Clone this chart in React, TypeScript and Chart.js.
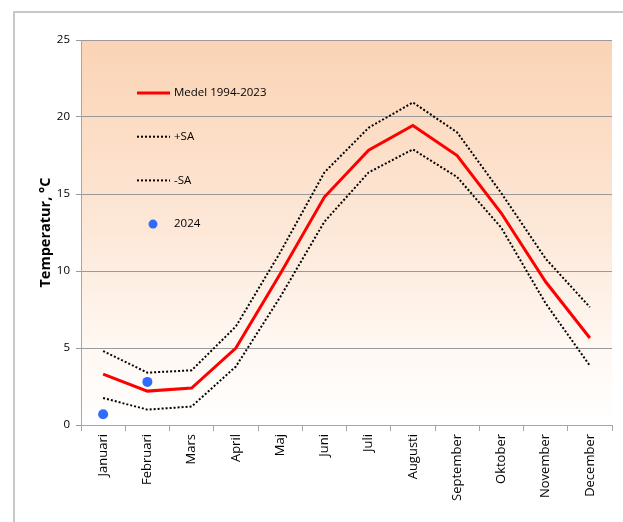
import React, { useEffect, useRef } from "react";
import { Chart, registerables } from "chart.js";

Chart.register(...registerables);

const months = [
  "Januari", "Februari", "Mars", "April", "Maj", "Juni",
  "Juli", "Augusti", "September", "Oktober", "November", "December",
];
const medel = [3.3, 2.2, 2.4, 5.0, 9.8, 14.8, 17.85, 19.45, 17.5, 13.75, 9.3, 5.65];
const plusSA = [4.8, 3.4, 3.55, 6.4, 11.2, 16.4, 19.3, 20.95, 19.0, 15.05, 10.8, 7.65];
const minusSA = [1.75, 1.0, 1.2, 3.8, 8.3, 13.2, 16.4, 17.9, 16.1, 12.8, 7.9, 3.85];
const y2024: (number | null)[] = [0.7, 2.8, null, null, null, null, null, null, null, null, null, null];
const yTicks = [0, 5, 10, 15, 20, 25];

const FONT = "'Open Sans', 'Liberation Sans', sans-serif";

const bgPlugin = {
  id: "bgGradient",
  beforeDraw(chart: any) {
    const { ctx, chartArea } = chart;
    if (!chartArea) return;
    const g = ctx.createLinearGradient(0, chartArea.top, 0, chartArea.bottom);
    g.addColorStop(0, "#FBD3B4");
    g.addColorStop(0.5, "#FDE8D8");
    g.addColorStop(0.8, "#FFF8F3");
    g.addColorStop(1, "#FFFFFF");
    ctx.save();
    ctx.fillStyle = g;
    ctx.fillRect(chartArea.left, chartArea.top, chartArea.right - chartArea.left, chartArea.bottom - chartArea.top);
    ctx.restore();
  },
};

const legendPlugin = {
  id: "insideLegend",
  afterDraw(chart: any) {
    const { ctx, chartArea } = chart;
    const x0 = chartArea.left + 56;
    const y0 = chartArea.top + 53;
    const step = 43.7;
    ctx.save();
    chart.data.datasets.forEach((ds: any, i: number) => {
      const y = y0 + i * step;
      if (ds.showLine === false) {
        ctx.beginPath();
        ctx.fillStyle = ds.backgroundColor;
        ctx.arc(x0 + 16, y, 4.5, 0, Math.PI * 2);
        ctx.fill();
      } else {
        ctx.beginPath();
        ctx.strokeStyle = ds.borderColor;
        ctx.lineWidth = ds.borderWidth;
        ctx.setLineDash(ds.borderDash || []);
        ctx.moveTo(x0, y);
        ctx.lineTo(x0 + 33, y);
        ctx.stroke();
        ctx.setLineDash([]);
      }
      ctx.fillStyle = "#000";
      ctx.font = `11.5px ${FONT}`;
      ctx.textBaseline = "middle";
      ctx.textAlign = "left";
      ctx.fillText(ds.label, x0 + 37, y);
    });
    ctx.restore();
  },
};

export default function App() {
  const ref = useRef<HTMLCanvasElement>(null);
  useEffect(() => {
    if (!ref.current) return;
    Chart.defaults.font.family = FONT;
    const chart = new Chart(ref.current, {
      type: "line",
      data: {
        labels: months,
        datasets: [
          {
            label: "Medel 1994-2023",
            data: medel,
            borderColor: "#FF0000",
            backgroundColor: "#FF0000",
            borderWidth: 3,
            pointRadius: 0,
            tension: 0,
          },
          {
            label: "+SA",
            data: plusSA,
            borderColor: "#000000",
            backgroundColor: "#000000",
            borderWidth: 2,
            borderDash: [2, 2],
            pointRadius: 0,
          },
          {
            label: "-SA",
            data: minusSA,
            borderColor: "#000000",
            backgroundColor: "#000000",
            borderWidth: 2,
            borderDash: [2, 2],
            pointRadius: 0,
          },
          {
            label: "2024",
            data: y2024,
            showLine: false,
            borderColor: "#2F6BFF",
            backgroundColor: "#2F6BFF",
            pointRadius: 5,
            pointBorderWidth: 0,
          },
        ],
      },
      options: {
        animation: false,
        responsive: false,
        maintainAspectRatio: false,
        layout: { padding: { left: 37, right: 11, top: 40, bottom: 0 } },
        plugins: {
          legend: { display: false },
          tooltip: { enabled: false },
        },
        scales: {
          x: {
            type: "category",
            offset: true,
            grid: {
              offset: true,
              drawOnChartArea: false,
              drawTicks: true,
              tickLength: 6,
              color: "#A6A6A6",
            },
            border: { color: "#A6A6A6", width: 1 },
            ticks: {
              color: "#000",
              font: { size: 13 },
              maxRotation: 90,
              minRotation: 90,
              autoSkip: false,
              padding: 3,
            },
            afterFit(axis: any) {
              axis.height = 97;
            },
          },
          y: {
            min: 0,
            max: 25,
            afterBuildTicks(axis: any) {
              axis.ticks = yTicks.map((v) => ({ value: v }));
            },
            grid: {
              color: "#9A9A9A",
              lineWidth: 1,
              drawTicks: true,
              tickLength: 5,
            },
            border: { display: true, color: "#A6A6A6" },
            ticks: { color: "#000", font: { size: 11.5 }, padding: 6 },
            title: {
              display: true,
              text: "Temperatur, °C",
              color: "#000",
              font: { size: 14.5, weight: "bold" },
              padding: { top: 0, bottom: 6 },
            },
            afterFit(axis: any) {
              axis.width = 44;
            },
          },
        },
      },
      plugins: [bgPlugin, legendPlugin],
    });
    return () => chart.destroy();
  }, []);

  return (
    <div style={{ position: "fixed", left: 0, top: 0, width: 623, height: 522, background: "#fff", overflow: "hidden" }}>
      <div
        style={{
          position: "absolute",
          left: 13,
          top: 11,
          width: 700,
          height: 600,
          borderLeft: "2px solid #C8C8C8",
          borderTop: "2px solid #C8C8C8",
        }}
      />
      <canvas ref={ref} width={623} height={522} style={{ position: "absolute", left: 0, top: 0, width: 623, height: 522 }} />
    </div>
  );
}
